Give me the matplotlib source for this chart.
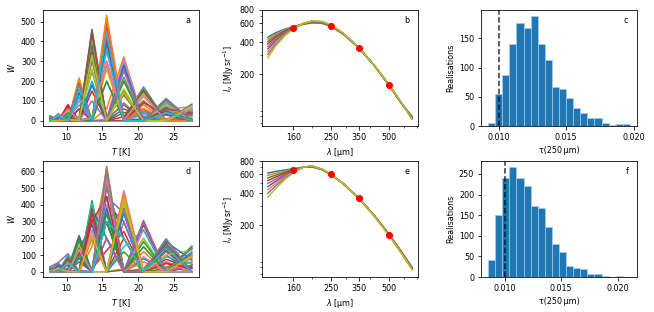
import matplotlib.pyplot as plt
import numpy as np
from matplotlib.ticker import NullFormatter

plt.rcParams['font.size'] = 8

# temperature grid of the weights
T_grid = [7.7, 8.85, 10.2, 11.75, 13.55, 15.6, 18.0, 20.75, 23.9, 27.5]

# weight realisations, upper row (panel a)
W_top = [
    [0, 5, 0, 60, 10, 420, 0, 40, 5, 50],
    [0, 0, 8, 0, 0, 532, 15, 0, 10, 0],
    [5, 0, 30, 0, 380, 0, 150, 10, 0, 20],
    [10, 0, 82, 0, 20, 300, 0, 100, 0, 30],
    [0, 20, 0, 120, 0, 200, 10, 171, 0, 60],
    [0, 0, 5, 0, 461, 10, 80, 0, 40, 0],
    [15, 0, 0, 150, 0, 350, 0, 30, 10, 40],
    [0, 5, 40, 0, 300, 0, 90, 0, 112, 0],
    [0, 25, 0, 10, 0, 260, 0, 140, 0, 70],
    [3, 0, 10, 80, 0, 0, 280, 0, 90, 5],
    [20, 0, 60, 0, 400, 0, 60, 20, 0, 30],
    [0, 8, 0, 200, 0, 60, 322, 0, 40, 0],
    [0, 30, 0, 15, 250, 0, 200, 0, 60, 10],
    [5, 0, 70, 0, 0, 480, 0, 60, 0, 0],
    [0, 0, 5, 100, 0, 380, 0, 50, 0, 84],
    [10, 0, 0, 0, 350, 20, 130, 0, 70, 0],
    [0, 3, 50, 0, 10, 450, 0, 0, 50, 40],
    [0, 15, 0, 180, 0, 0, 250, 5, 100, 0],
    [5, 0, 0, 20, 420, 0, 0, 120, 0, 20],
    [0, 0, 30, 0, 200, 0, 300, 0, 5, 60],
    [0, 35, 0, 140, 0, 400, 0, 10, 30, 0],
    [8, 0, 0, 216, 0, 280, 0, 80, 0, 0],
    [25, 0, 10, 0, 330, 0, 200, 0, 0, 50],
    [0, 0, 75, 0, 150, 0, 20, 150, 0, 40],
    [0, 10, 0, 0, 0, 500, 0, 0, 80, 0],
    [0, 0, 20, 0, 440, 0, 40, 60, 0, 5],
    [0, 30, 0, 100, 0, 10, 310, 0, 60, 70],
    [10, 0, 0, 5, 0, 420, 0, 100, 0, 30],
    [0, 0, 50, 0, 260, 0, 160, 0, 80, 0],
    [0, 5, 0, 160, 0, 360, 0, 40, 0, 50],
    [0, 20, 0, 0, 180, 0, 280, 0, 50, 0],
    [3, 0, 0, 10, 0, 520, 0, 60, 0, 0],
    [15, 0, 40, 0, 0, 200, 0, 160, 0, 80],
    [0, 0, 0, 60, 0, 420, 0, 90, 30, 0],
    [0, 8, 0, 0, 100, 0, 260, 0, 110, 0],
    [0, 10, 0, 0, 455, 0, 0, 0, 60, 40],
    [0, 0, 60, 0, 15, 300, 0, 130, 0, 60],
    [20, 0, 0, 190, 0, 0, 220, 0, 105, 0],
    [0, 0, 5, 0, 330, 0, 140, 0, 0, 75],
    [0, 25, 0, 120, 0, 440, 0, 0, 40, 0],
]

# weight realisations, lower row (panel d)
W_bottom = [
    [0, 0, 20, 217, 0, 300, 0, 80, 0, 40],
    [0, 5, 0, 0, 150, 600, 0, 10, 30, 0],
    [0, 20, 0, 10, 426, 0, 120, 0, 0, 153],
    [0, 0, 0, 111, 18, 127, 241, 0, 75, 22],
    [30, 55, 108, 0, 0, 350, 0, 150, 0, 40],
    [0, 0, 10, 120, 0, 400, 300, 0, 100, 0],
    [0, 30, 0, 0, 300, 0, 486, 0, 10, 60],
    [0, 0, 0, 5, 0, 631, 0, 0, 197, 0],
    [10, 0, 60, 0, 250, 0, 400, 0, 50, 0],
    [0, 10, 0, 180, 0, 450, 0, 200, 0, 120],
    [20, 0, 40, 0, 380, 200, 0, 0, 150, 0],
    [0, 40, 0, 90, 0, 550, 0, 120, 0, 60],
    [0, 0, 80, 0, 200, 0, 450, 0, 20, 140],
    [0, 0, 0, 150, 0, 300, 0, 306, 0, 30],
    [15, 50, 0, 0, 320, 0, 300, 0, 120, 0],
    [0, 0, 0, 60, 0, 500, 200, 0, 60, 0],
    [0, 5, 50, 0, 0, 400, 0, 250, 0, 100],
    [25, 0, 0, 200, 0, 0, 380, 0, 190, 0],
    [0, 30, 0, 0, 400, 0, 20, 200, 0, 80],
    [0, 0, 100, 0, 0, 580, 0, 0, 90, 50],
    [0, 0, 0, 140, 280, 0, 350, 0, 0, 110],
    [10, 0, 0, 0, 0, 620, 0, 60, 0, 0],
    [0, 45, 0, 100, 0, 300, 0, 180, 0, 150],
    [0, 0, 70, 0, 350, 0, 200, 0, 130, 0],
    [20, 0, 0, 10, 0, 450, 350, 0, 0, 40],
    [0, 0, 0, 210, 0, 200, 0, 280, 0, 90],
    [0, 25, 0, 0, 250, 0, 460, 0, 60, 0],
    [0, 0, 90, 0, 0, 520, 0, 20, 160, 0],
    [5, 0, 0, 160, 0, 0, 420, 0, 100, 130],
    [0, 0, 0, 0, 410, 0, 150, 250, 0, 0],
    [0, 35, 0, 80, 0, 380, 0, 0, 180, 70],
    [0, 0, 50, 0, 200, 0, 470, 0, 0, 100],
    [15, 0, 0, 190, 0, 350, 0, 150, 0, 0],
    [0, 0, 0, 0, 300, 450, 0, 0, 50, 20],
    [0, 50, 0, 0, 0, 200, 0, 300, 0, 140],
    [0, 0, 80, 0, 380, 0, 10, 0, 170, 0],
    [0, 0, 0, 130, 0, 560, 0, 90, 0, 0],
    [28, 0, 0, 0, 0, 610, 0, 0, 195, 0],
    [0, 20, 0, 0, 220, 0, 440, 0, 0, 90],
    [0, 0, 60, 0, 0, 300, 200, 0, 140, 0],
]

# model SEDs
wav = [118, 130, 145, 160, 180, 200, 225, 250, 290, 350, 420, 500, 580, 660]
sed_top = [
    [445, 490, 530, 556, 588, 605, 600, 562, 475, 352, 240, 158, 106, 80],
    [425, 475, 521, 553, 590, 608, 603, 564, 476, 352, 240, 158, 106, 79],
    [405, 460, 512, 550, 592, 612, 606, 566, 477, 353, 241, 158, 107, 78],
    [385, 445, 503, 547, 594, 615, 609, 568, 478, 353, 241, 159, 107, 78],
    [365, 430, 494, 544, 595, 618, 612, 571, 480, 353, 241, 159, 107, 77],
    [345, 415, 486, 541, 596, 622, 615, 573, 481, 354, 241, 159, 107, 77],
    [325, 400, 477, 538, 597, 625, 618, 576, 482, 354, 242, 160, 108, 76],
    [305, 385, 468, 535, 598, 629, 621, 579, 484, 355, 242, 160, 108, 76],
    [285, 370, 460, 532, 600, 632, 625, 582, 485, 355, 242, 160, 108, 75],
]
sed_bottom = [
    [617, 640, 660, 678, 700, 705, 665, 598, 492, 358, 247, 165, 113, 80],
    [586, 616, 645, 671, 700, 707, 666, 599, 492, 358, 247, 165, 113, 80],
    [555, 592, 630, 664, 700, 710, 667, 599, 491, 357, 246, 164, 112, 79],
    [524, 568, 615, 657, 700, 712, 668, 600, 490, 357, 246, 164, 112, 79],
    [492, 543, 600, 649, 700, 714, 669, 601, 490, 357, 245, 163, 111, 78],
    [460, 518, 585, 642, 700, 716, 670, 601, 489, 356, 245, 163, 111, 78],
    [429, 494, 570, 635, 700, 718, 670, 602, 489, 356, 244, 162, 110, 77],
    [398, 470, 555, 627, 700, 720, 671, 602, 488, 355, 244, 162, 110, 77],
    [366, 445, 540, 620, 700, 722, 672, 603, 488, 355, 243, 161, 109, 76],
]

# observed intensities
band_wav = [160, 250, 350, 500]
obs_top = [546, 566, 349, 158]
obs_bottom = [656, 600, 358, 160]

# tau(250um) histograms
tau_top_counts = [5, 55, 87, 140, 176, 167, 189, 140, 113, 67,
                  63, 48, 30, 23, 13, 14, 5, 2, 3, 3]
tau_top_range = (0.00921, 0.01971)
tau_bottom_counts = [41, 150, 240, 268, 240, 222, 172, 168, 121, 80,
                     61, 28, 23, 20, 7, 7, 3, 0, 3, 0]
tau_bottom_range = (0.00852, 0.02108)
tau_true = 0.010

fig, axes = plt.subplots(2, 3, figsize=(654 / 72, 312 / 72), dpi=72)
fig.subplots_adjust(left=0.0657, right=0.974, bottom=0.112, top=0.968,
                    wspace=0.404, hspace=0.302)


def label(ax, s):
    ax.text(0.945, 0.95, s, transform=ax.transAxes, ha='right', va='top')


rows = [
    (W_top, sed_top, obs_top, tau_top_counts, tau_top_range, 'abc'),
    (W_bottom, sed_bottom, obs_bottom, tau_bottom_counts, tau_bottom_range, 'def'),
]

for i, (W, sed, obs, counts, trange, letters) in enumerate(rows):
    ax = axes[i, 0]
    for w in W:
        ax.plot(T_grid, w)
    ax.set_xlabel('$T$ [K]')
    ax.set_ylabel('$W$')
    label(ax, letters[0])

    ax = axes[i, 1]
    for s in sed:
        ax.plot(wav, s)
    ax.plot(band_wav, obs, 'ro')
    ax.set_xscale('log')
    ax.set_yscale('log')
    ax.set_xlim(110, 708)
    ax.set_ylim(65, 800)
    ax.set_xticks(band_wav, [str(b) for b in band_wav])
    ax.set_yticks([200, 400, 600, 800], ['200', '400', '600', '800'])
    ax.xaxis.set_minor_formatter(NullFormatter())
    ax.yaxis.set_minor_formatter(NullFormatter())
    ax.set_xlabel('$\\lambda$ [µm]')
    ax.set_ylabel('$I_\\nu$ [MJy$\\,$sr$^{-1}$]')
    label(ax, letters[1])

    ax = axes[i, 2]
    edges = np.linspace(trange[0], trange[1], len(counts) + 1)
    ax.bar(edges[:-1], counts, width=np.diff(edges), align='edge',
           color='C0', edgecolor='#a9cbe8', linewidth=0.7)
    ax.axvline(tau_true, color='k', ls='--', alpha=0.8)
    ax.set_xticks([0.010, 0.015, 0.020])
    ax.set_xlabel('τ(250\u2009µm)')
    ax.set_ylabel('Realisations')
    label(ax, letters[2])

plt.savefig('out.png', dpi=72)
